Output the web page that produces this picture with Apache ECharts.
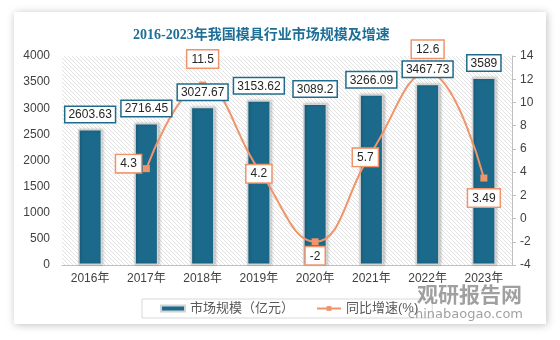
<!DOCTYPE html>
<html><head><meta charset="utf-8">
<script src="https://cdn.jsdelivr.net/npm/echarts@6/dist/echarts.min.js"></script>
<style>html,body{margin:0;padding:0;background:#fff}#c{width:560px;height:340px}</style>
</head><body><div id="c"></div>
<script>
var categories = ['2016年','2017年','2018年','2019年','2020年','2021年','2022年','2023年'];
var marketSize = [2603.63, 2716.45, 3027.67, 3153.62, 3089.2, 3266.09, 3467.73, 3589];
var growthRate = ['-', 4.3, 11.5, 4.2, -2, 5.7, 12.6, 3.49];
var sizeTicks = {min: 0, max: 4000, interval: 500};
var rateTicks = {min: -4, max: 14, interval: 2};
var titleText = '2016-2023年我国模具行业市场规模及增速';
var seriesNames = ['市场规模（亿元）', '同比增速(%)'];

// hatch pattern for plot background
var pc = document.createElement('canvas');
pc.width = 4; pc.height = 4;
var px = pc.getContext('2d');
px.fillStyle = '#ffffff'; px.fillRect(0,0,4,4);
px.strokeStyle = '#e2e2e2'; px.lineWidth = 1;
px.beginPath(); px.moveTo(0,0); px.lineTo(4,4); px.moveTo(-1,3); px.lineTo(1,5); px.moveTo(3,-1); px.lineTo(5,1); px.stroke();

var labelCfg = [
  null,
  {position: 'left', distance: 2, offset: [0, -5]},
  {position: 'top', distance: 14},
  {position: 'inside', offset: [0, 4]},
  {position: 'bottom', distance: 2},
  {position: 'inside', offset: [-6, 5]},
  {position: 'top', distance: 11},
  {position: 'bottom', distance: 8}
];
var lineData = growthRate.map(function (v, i) {
  if (v === '-') return v;
  return {value: v, label: labelCfg[i]};
});

var chart = echarts.init(document.getElementById('c'), null, {renderer: 'canvas'});
var baseFont = '"Liberation Sans", "Noto Sans CJK SC", sans-serif';
var barLabel = {show: true, position: 'top', distance: 7, color: '#262626', fontSize: 12, fontFamily: baseFont,
  backgroundColor: '#ffffff', borderColor: '#1f6b8c', borderWidth: 1.5, padding: [2, 3, 1, 3]};
chart.setOption({
  animation: false,
  backgroundColor: '#ffffff',
  graphic: [
    {type: 'rect', z: -10, shape: {x: 14, y: 12, width: 532, height: 312},
     style: {fill: '#ffffff', shadowBlur: 8, shadowColor: 'rgba(0,0,0,0.25)', shadowOffsetX: 1, shadowOffsetY: 1}},
    {type: 'text', right: 38, top: 284, z: 100,
     style: {text: '观研报告网', fill: 'rgba(120,120,120,0.7)', font: 'bold 21px "Noto Sans CJK SC"'}},
    {type: 'text', right: 37, top: 308, z: 100,
     style: {text: 'chinabaogao.com', fill: 'rgba(120,120,120,0.7)', font: '13px "DejaVu Sans"'}}
  ],
  title: {
    text: titleText, left: 128, top: 23,
    textStyle: {fontSize: 14, fontWeight: 'bold', color: '#1e6f97', fontFamily: '"Liberation Serif", "Noto Sans CJK SC", serif'}
  },
  grid: {left: 62, right: 48, top: 56, bottom: 75, show: true, borderWidth: 0,
    backgroundColor: {image: pc, repeat: 'repeat'}},
  legend: {
    bottom: 22, left: 142, itemGap: 22, itemWidth: 24, itemHeight: 6,
    borderColor: '#d9d9d9', borderWidth: 1, padding: [3, 14, 3, 18],
    textStyle: {fontSize: 13, color: '#595959', fontFamily: baseFont},
    data: [{name: seriesNames[0], icon: 'rect'}, {name: seriesNames[1]}]
  },
  xAxis: {
    type: 'category', data: categories,
    axisLine: {lineStyle: {color: '#bfbfbf', width: 1}},
    axisTick: {show: false},
    axisLabel: {color: '#404040', fontSize: 12, margin: 8, fontFamily: baseFont}
  },
  yAxis: [
    {type: 'value', min: sizeTicks.min, max: sizeTicks.max, interval: sizeTicks.interval,
     axisLine: {show: false}, axisTick: {show: false}, splitLine: {show: false},
     axisLabel: {color: '#404040', fontSize: 12, margin: 12, fontFamily: baseFont, formatter: function (v) { return String(v); }}},
    {type: 'value', min: rateTicks.min, max: rateTicks.max, interval: rateTicks.interval,
     axisLine: {show: true, lineStyle: {color: '#bfbfbf'}}, axisTick: {show: true, length: 4, lineStyle: {color: '#bfbfbf'}},
     splitLine: {show: false},
     axisLabel: {color: '#404040', fontSize: 12, margin: 8, fontFamily: baseFont}}
  ],
  series: [
    {name: seriesNames[0], type: 'bar', data: marketSize, barWidth: 24, yAxisIndex: 0, z: 2,
     itemStyle: {color: '#1b6a8c', borderColor: '#d4d4d4', borderWidth: 1.5,
       shadowBlur: 3, shadowColor: 'rgba(0,0,0,0.25)', shadowOffsetX: 1},
     label: {show: false}},
    {name: seriesNames[1], type: 'line', data: lineData, yAxisIndex: 1, smooth: 0.45,
     symbol: 'rect', symbolSize: 7, showSymbol: true,
     lineStyle: {color: '#f0946a', width: 2},
     itemStyle: {color: '#f0946a'},
     label: {show: true, color: '#262626', fontSize: 12, fontFamily: baseFont,
       backgroundColor: '#ffffff', borderColor: '#f0946a', borderWidth: 1.5, padding: [3, 4, 2, 4]},
     z: 3},
    {name: 'barLabels', type: 'bar', data: marketSize, barWidth: 24, yAxisIndex: 0, barGap: '-100%', z: 4,
     itemStyle: {color: 'rgba(0,0,0,0)'}, label: barLabel, silent: true, tooltip: {show: false}}
  ]
});
</script></body></html>
